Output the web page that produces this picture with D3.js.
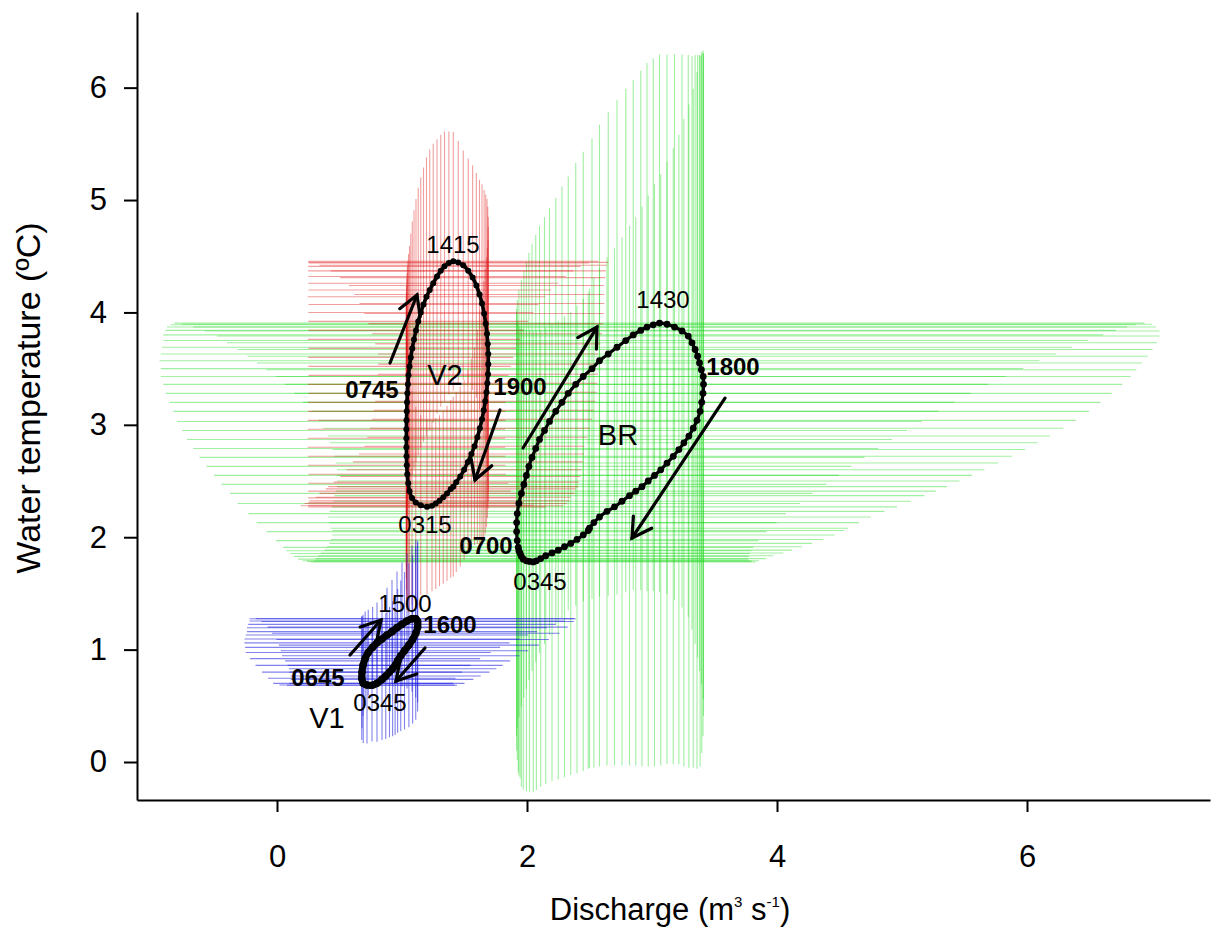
<!DOCTYPE html>
<html><head><meta charset="utf-8">
<script src="https://cdn.jsdelivr.net/npm/d3@7"></script>
<style>
body{margin:0;background:#fff}
text{font-family:"Liberation Sans",Arial,Helvetica,sans-serif;fill:#000}
</style>
</head><body>
<svg id="chart" width="1227" height="935"></svg>
<script>
// ---------------- data ----------------
const xTicks = [0, 2, 4, 6];
const yTicks = [0, 1, 2, 3, 4, 5, 6];
const xTitle = "Discharge (m";
const yTitle = "Water temperature (ºC)";

// rows: [discharge Q, temperature T, error on Q, error on T], 15-min samples in time order
const brLoop = [
[2.05,1.78,1.78,2.05],[2.02,1.785,1.78,2.05],[1.995,1.79,1.79,2.05],[1.97,1.805,1.8,2.05],
[1.955,1.83,1.82,2.05],[1.945,1.855,1.84,2.0],[1.935,1.88,1.86,2.0],[1.93,1.91,1.88,2.0],
[1.922,1.97,1.93,1.95],[1.917,2.05,2.0,1.95],[1.917,2.13,2.08,1.9],[1.922,2.21,2.15,1.9],
[1.935,2.3,2.25,1.9],[1.955,2.39,2.33,1.9],[1.975,2.47,2.42,1.9],[1.995,2.55,2.5,1.9],
[2.015,2.63,2.58,1.9],[2.04,2.71,2.66,1.9],[2.07,2.79,2.74,1.9],[2.1,2.87,2.82,1.9],
[2.14,2.95,2.9,1.9],[2.18,3.03,2.98,1.9],[2.23,3.12,3.06,1.9],[2.28,3.2,3.14,1.92],
[2.33,3.28,3.22,1.93],[2.39,3.36,3.3,1.97],[2.45,3.43,3.38,2.0],[2.52,3.5,3.45,2.05],
[2.58,3.57,3.52,2.1],[2.65,3.63,3.58,2.15],[2.72,3.69,3.64,2.2],[2.79,3.75,3.7,2.24],
[2.85,3.8,3.76,2.27],[2.91,3.84,3.8,2.31],[2.96,3.87,3.84,2.35],[3.01,3.89,3.86,2.37],
[3.06,3.905,3.88,2.39],[3.12,3.895,3.88,2.4],[3.18,3.87,3.85,2.43],[3.24,3.835,3.82,2.46],
[3.29,3.79,3.77,2.5],[3.32,3.73,3.72,2.55],[3.345,3.67,3.66,2.62],[3.365,3.61,3.6,2.68],
[3.38,3.55,3.54,2.74],[3.395,3.49,3.48,2.8],[3.41,3.43,3.42,2.87],[3.412,3.36,3.35,2.95],
[3.408,3.28,3.27,3.05],[3.398,3.2,3.19,3.12],[3.385,3.12,3.11,3.16],[3.36,3.04,3.03,3.1],
[3.33,2.97,2.96,3.02],[3.295,2.9,2.89,2.95],[3.255,2.84,2.83,2.88],[3.215,2.78,2.77,2.8],
[3.17,2.72,2.71,2.74],[3.12,2.66,2.65,2.68],[3.07,2.6,2.59,2.63],[3.02,2.55,2.54,2.59],
[2.97,2.5,2.49,2.54],[2.92,2.45,2.44,2.49],[2.87,2.41,2.4,2.44],[2.82,2.37,2.36,2.4],
[2.76,2.32,2.31,2.35],[2.7,2.27,2.26,2.3],[2.64,2.23,2.22,2.26],[2.58,2.18,2.17,2.22],
[2.535,2.13,2.12,2.18],[2.5,2.08,2.07,2.13],[2.49,2.06,2.05,2.12],[2.45,2.02,2.01,2.1],
[2.4,1.98,1.97,2.08],[2.35,1.945,1.93,2.06],[2.3,1.915,1.9,2.05],[2.25,1.885,1.87,2.04],
[2.2,1.86,1.85,2.03],[2.15,1.835,1.82,2.03],[2.11,1.81,1.8,2.03],[2.075,1.79,1.78,2.04]
];

const v2Loop = [
[1.2,2.27,0.95,0.78],[1.15,2.285,0.9,0.8],[1.11,2.31,0.86,0.85],[1.08,2.35,0.83,0.95],
[1.06,2.41,0.81,1.05],[1.05,2.48,0.8,1.15],[1.042,2.56,0.79,1.2],[1.038,2.64,0.79,1.25],
[1.036,2.72,0.79,1.27],[1.035,2.8,0.79,1.27],[1.035,2.88,0.79,1.25],[1.035,2.96,0.79,1.22],
[1.036,3.04,0.79,1.2],[1.038,3.12,0.79,1.18],[1.04,3.2,0.79,1.15],[1.043,3.28,0.79,1.13],
[1.047,3.36,0.8,1.1],[1.052,3.44,0.8,1.08],[1.06,3.52,0.81,1.07],[1.07,3.6,0.82,1.1],
[1.082,3.68,0.83,1.13],[1.096,3.76,0.85,1.15],[1.112,3.84,0.86,1.17],[1.13,3.92,0.88,1.19],
[1.15,4.0,0.9,1.2],[1.172,4.07,0.92,1.22],[1.196,4.14,0.95,1.24],[1.222,4.2,0.97,1.25],
[1.25,4.26,1.0,1.24],[1.28,4.32,1.03,1.22],[1.31,4.37,1.06,1.21],[1.34,4.41,1.09,1.2],
[1.375,4.44,1.12,1.17],[1.41,4.455,1.16,1.15],[1.45,4.445,1.2,1.08],[1.49,4.42,1.15,1.02],
[1.53,4.37,1.1,1.0],[1.565,4.31,1.06,1.0],[1.595,4.24,1.02,1.0],[1.62,4.16,1.0,1.02],
[1.64,4.08,0.98,1.06],[1.657,3.99,0.96,1.1],[1.67,3.9,0.94,1.15],[1.68,3.81,0.92,1.2],
[1.686,3.72,0.9,1.22],[1.69,3.63,0.88,1.22],[1.69,3.54,0.88,1.22],[1.688,3.45,0.88,1.2],
[1.683,3.37,0.88,1.2],[1.676,3.29,0.88,1.2],[1.666,3.21,0.88,1.18],[1.654,3.13,0.88,1.15],
[1.64,3.05,0.88,1.12],[1.623,2.97,0.88,1.05],[1.603,2.89,0.88,0.95],[1.58,2.81,0.88,0.88],
[1.555,2.74,0.9,0.85],[1.527,2.67,0.92,0.82],[1.497,2.6,0.94,0.8],[1.466,2.54,0.96,0.8],
[1.434,2.49,0.98,0.8],[1.41,2.45,1.0,0.8],[1.39,2.43,1.0,0.79],[1.36,2.39,1.02,0.78],
[1.33,2.355,1.02,0.77],[1.3,2.325,1.04,0.76],[1.27,2.3,1.05,0.76],[1.24,2.28,1.05,0.76]
];

const v1Loop = [
[0.76,0.683,0.68,0.5],[0.72,0.685,0.7,0.52],[0.69,0.7,0.72,0.53],[0.678,0.745,0.75,0.55],
[0.68,0.8,0.8,0.5],[0.688,0.86,0.86,0.45],[0.705,0.92,0.92,0.42],[0.73,0.975,0.98,0.38],
[0.765,1.02,1.02,0.36],[0.8,1.06,1.06,0.36],[0.84,1.095,1.1,0.38],[0.88,1.13,1.13,0.42],
[0.92,1.16,1.16,0.46],[0.96,1.195,1.2,0.5],[1.0,1.225,1.23,0.55],[1.04,1.255,1.26,0.6],
[1.08,1.275,1.3,0.65],[1.11,1.275,1.28,0.7],[1.125,1.25,1.25,0.72],[1.125,1.2,1.2,0.75],
[1.11,1.145,1.15,0.77],[1.085,1.09,1.09,0.75],[1.055,1.04,1.04,0.73],[1.02,0.99,0.99,0.7],
[0.99,0.945,0.95,0.67],[0.965,0.9,0.9,0.64],[0.945,0.86,0.86,0.62],[0.925,0.83,0.83,0.6],
[0.9,0.8,0.8,0.58],[0.87,0.765,0.76,0.56],[0.84,0.735,0.73,0.54],[0.8,0.7,0.7,0.52]
];

// arrows: [Q start, T start, Q end, T end]
const arrowSegments = [
[1.968,2.794,2.56,3.87],[3.584,3.238,2.84,1.993],
[0.904,3.55,1.12,4.155],[1.784,3.132,1.584,2.509],
[0.584,0.952,0.832,1.263],[1.184,1.014,0.952,0.721]
];
// time labels [text, Q, T]
const timeLabels = [["1415",1.408,4.6],["0315",1.184,2.109],["1430",3.088,4.11],
  ["0345",2.104,1.601],["1500",1.024,1.406],["0345",0.824,0.525]];
const boldTimeLabels = [["0745",0.76,3.31],["1900",1.944,3.336],["1800",3.648,3.514],
  ["0700",1.672,1.922],["1600",1.384,1.219],["0645",0.328,0.747]];
const siteLabels = [["V2",1.344,3.443],["BR",2.728,2.909],["V1",0.4,0.391]];

// ---------------- drawing ----------------
const svg = d3.select("#chart");
const x = d3.scaleLinear().domain([-1.12, 7.464]).range([137, 1210]);
const y = d3.scaleLinear().domain([-0.338, 6.673]).range([800, 12]);

function errorBars(rows, color, op){
  const g = svg.append("g").attr("stroke", color).attr("stroke-opacity", op).attr("stroke-width", 1.1);
  g.selectAll("line.h").data(rows).join("line").attr("class","h")
    .attr("x1", d => x(d[0]-d[2])).attr("x2", d => x(d[0]+d[2]))
    .attr("y1", d => y(d[1])).attr("y2", d => y(d[1]));
  g.selectAll("line.v").data(rows).join("line").attr("class","v")
    .attr("x1", d => x(d[0])).attr("x2", d => x(d[0]))
    .attr("y1", d => y(d[1]-d[3])).attr("y2", d => y(d[1]+d[3]));
}
errorBars(brLoop, "#1fd81f", 0.42);
errorBars(v2Loop, "#e01818", 0.42);
errorBars(v1Loop, "#1c1ce0", 0.55);

const lineGen = d3.line().x(d => x(d[0])).y(d => y(d[1])).curve(d3.curveCatmullRomClosed);
function loop(rows, w, r){
  svg.append("path").datum(rows).attr("d", lineGen)
    .attr("fill","none").attr("stroke","#000").attr("stroke-width", w).attr("stroke-linejoin","round");
  svg.append("g").selectAll("circle").data(rows).join("circle")
    .attr("cx", d => x(d[0])).attr("cy", d => y(d[1])).attr("r", r).attr("fill","#000");
}
loop(brLoop, 3.2, 3.4);
loop(v2Loop, 3.6, 3.0);
loop(v1Loop, 7, 3.8);

// arrows
const ag = svg.append("g").attr("stroke","#000").attr("stroke-width",3.2).attr("fill","none").attr("stroke-linecap","round");
arrowSegments.forEach(a => {
  const x1 = x(a[0]), y1 = y(a[1]), x2 = x(a[2]), y2 = y(a[3]);
  const ang = Math.atan2(y1 - y2, x1 - x2);
  const L = 22, s = Math.PI/6;
  ag.append("line").attr("x1",x1).attr("y1",y1).attr("x2",x2).attr("y2",y2);
  ag.append("path").attr("d",
    `M${x2 + L*Math.cos(ang+s)},${y2 + L*Math.sin(ang+s)}L${x2},${y2}L${x2 + L*Math.cos(ang-s)},${y2 + L*Math.sin(ang-s)}`)
    .attr("stroke-linejoin","miter");
});

// labels
svg.append("g").selectAll("text").data(timeLabels).join("text")
  .attr("x", d => x(d[1])).attr("y", d => y(d[2])).attr("dy","0.35em")
  .attr("text-anchor","middle").attr("font-size",24).text(d => d[0]);
svg.append("g").selectAll("text").data(boldTimeLabels).join("text")
  .attr("x", d => x(d[1])).attr("y", d => y(d[2])).attr("dy","0.35em")
  .attr("text-anchor","middle").attr("font-size",24).attr("font-weight","bold").text(d => d[0]);
svg.append("g").selectAll("text").data(siteLabels).join("text")
  .attr("x", d => x(d[1])).attr("y", d => y(d[2])).attr("dy","0.35em")
  .attr("text-anchor","middle").attr("font-size",29).text(d => d[0]);

// axes
const yAxis = svg.append("g").attr("transform","translate(137,0)")
  .call(d3.axisLeft(y).tickValues(yTicks).tickSize(13).tickSizeOuter(0).tickPadding(17).tickFormat(d3.format("d")));
const xAxis = svg.append("g").attr("transform","translate(0,800)")
  .call(d3.axisBottom(x).tickValues(xTicks).tickSize(12).tickSizeOuter(0).tickPadding(33).tickFormat(d3.format("d")));
[yAxis, xAxis].forEach(a => {
  a.select(".domain").attr("stroke","#000").attr("stroke-width",2);
  a.selectAll(".tick line").attr("stroke","#000").attr("stroke-width",2);
  a.selectAll(".tick text").attr("font-size",31).attr("font-family","Liberation Sans, Arial, sans-serif").attr("fill","#000");
});

// titles
const xt = svg.append("text").attr("x",670).attr("y",920).attr("text-anchor","middle").attr("font-size",31);
xt.append("tspan").text(xTitle);
xt.append("tspan").attr("font-size",15).attr("dy",-13).text("3");
xt.append("tspan").attr("dy",13).text(" s");
xt.append("tspan").attr("font-size",15).attr("dy",-13).text("-1");
xt.append("tspan").attr("dy",13).text(")");
svg.append("text").attr("transform","translate(40,398) rotate(-90)")
  .attr("text-anchor","middle").attr("font-size",34).text(yTitle);
</script>
</body></html>
